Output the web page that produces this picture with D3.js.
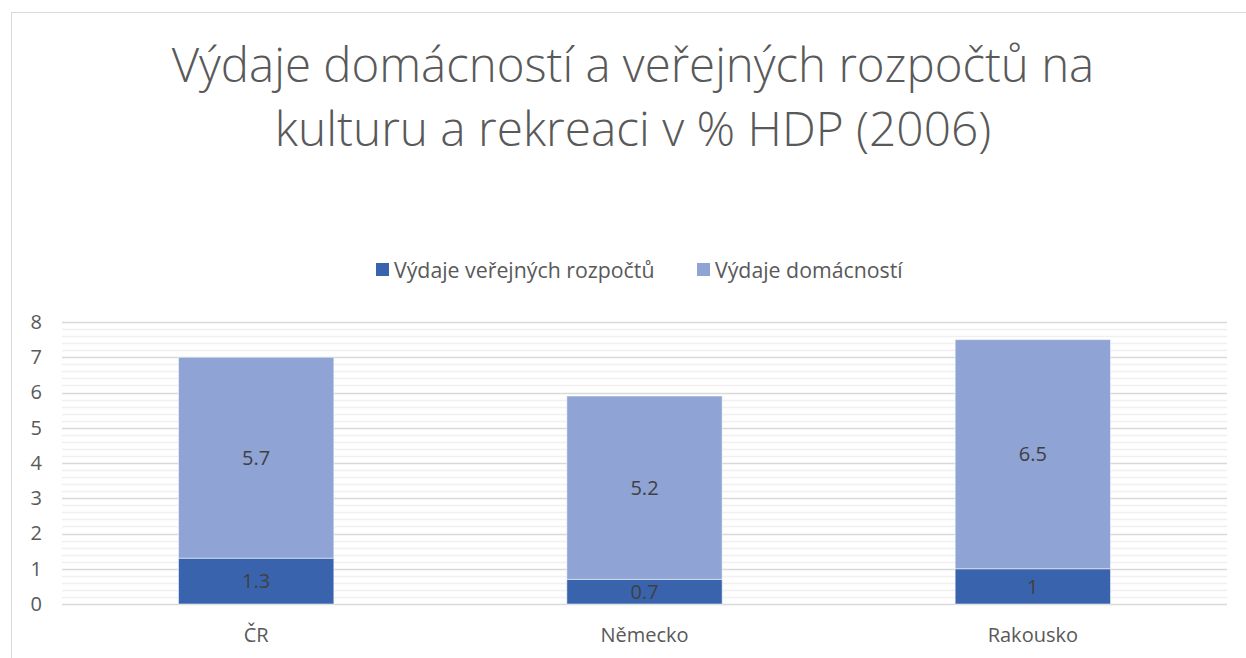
<!DOCTYPE html>
<html>
<head>
<meta charset="utf-8">
<script src="https://cdn.jsdelivr.net/npm/d3@7"></script>
<style>
  body { margin: 0; background: #fff; }
  svg { display: block; font-family: "Open Sans", "Noto Sans", sans-serif; }
</style>
</head>
<body>
<div id="chart"></div>
<script>
// Data
const categories = ['ČR', 'Německo', 'Rakousko'];
const publicSpend = [1.3, 0.7, 1];       // Výdaje veřejných rozpočtů
const householdSpend = [5.7, 5.2, 6.5];  // Výdaje domácností
const seriesNames = ['Výdaje veřejných rozpočtů', 'Výdaje domácností'];
const seriesColors = ['#3A63AD', '#8FA3D4'];
const yTicks = [0, 1, 2, 3, 4, 5, 6, 7, 8];
const titleLines = ['Výdaje domácností a veřejných rozpočtů na', 'kulturu a rekreaci v % HDP (2006)'];

const width = 1246, height = 658;
const margin = { left: 62, right: 19, top: 322, bottom: 54 };

const svg = d3.select('#chart').append('svg')
    .attr('width', width)
    .attr('height', height);

// Chart border (runs off right and bottom edges)
svg.append('rect')
    .attr('x', 11.5).attr('y', 12.5)
    .attr('width', 1400).attr('height', 800)
    .attr('fill', 'none')
    .attr('stroke', '#d9d9d9')
    .attr('stroke-width', 1);

// Title - fit each line to its width in the reference
const titleWidths = [922, 716];
titleLines.forEach((line, i) => {
    const t = svg.append('text')
        .attr('x', 633)
        .attr('y', 82 + i * 64)
        .attr('text-anchor', 'middle')
        .attr('fill', '#595959')
        .style('font-size', '42px')
        .style('font-weight', 300)
        .text(line);
    const w = t.node().getComputedTextLength();
    t.style('font-size', (42 * titleWidths[i] / w).toFixed(1) + 'px');
});

// Scales
const x = d3.scaleBand()
    .domain(categories)
    .range([margin.left, width - margin.right])
    .paddingInner(0.6)
    .paddingOuter(0.3);

const y = d3.scaleLinear()
    .domain([0, 8])
    .range([height - margin.bottom, margin.top]);

// Minor gridlines (every 0.2)
const minorTicks = d3.range(0, 8.001, 0.2).filter(v => Math.abs(v - Math.round(v)) > 0.01);
svg.append('g')
    .selectAll('line')
    .data(minorTicks)
    .join('line')
    .attr('x1', margin.left)
    .attr('x2', width - margin.right)
    .attr('y1', d => Math.round(y(d)) + 0.5)
    .attr('y2', d => Math.round(y(d)) + 0.5)
    .attr('stroke', '#f0f0f0')
    .attr('stroke-width', 1.5);

// Major gridlines
svg.append('g')
    .selectAll('line')
    .data(yTicks)
    .join('line')
    .attr('x1', margin.left)
    .attr('x2', width - margin.right)
    .attr('y1', d => Math.round(y(d)) + 0.5)
    .attr('y2', d => Math.round(y(d)) + 0.5)
    .attr('stroke', '#d9d9d9')
    .attr('stroke-width', 1.5);

// Y axis labels
const yAxis = svg.append('g')
    .attr('transform', `translate(${margin.left - 20},0)`)
    .call(d3.axisLeft(y).tickValues(yTicks).tickSize(0).tickPadding(0));
yAxis.select('.domain').remove();
yAxis.selectAll('text')
    .attr('fill', '#595959')
    .style('font-size', '20px')
    .style('font-family', '"Open Sans", "Noto Sans", sans-serif');

// X axis labels
const xAxis = svg.append('g')
    .attr('transform', `translate(0,${height - margin.bottom + 24})`)
    .call(d3.axisBottom(x).tickSize(0).tickPadding(0));
xAxis.select('.domain').remove();
xAxis.selectAll('text')
    .attr('fill', '#595959')
    .style('font-size', '20px')
    .style('font-family', '"Open Sans", "Noto Sans", sans-serif');

// Stacked bars
const rows = categories.map((c, i) => ({ cat: c, pub: publicSpend[i], hh: householdSpend[i] }));
const stacked = d3.stack().keys(['pub', 'hh'])(rows);

const layer = svg.append('g')
    .selectAll('g')
    .data(stacked)
    .join('g')
    .attr('fill', (d, i) => seriesColors[i]);

layer.selectAll('rect')
    .data(d => d)
    .join('rect')
    .attr('x', d => x(d.data.cat))
    .attr('width', x.bandwidth())
    .attr('y', d => y(d[1]))
    .attr('height', d => y(d[0]) - y(d[1]))
    .attr('stroke', '#ffffff')
    .attr('stroke-opacity', 0.5)
    .attr('stroke-width', 1);

// Data labels
layer.selectAll('text')
    .data(d => d.map(v => ({ v, key: d.key })))
    .join('text')
    .attr('x', d => x(d.v.data.cat) + x.bandwidth() / 2)
    .attr('y', d => (y(d.v[0]) + y(d.v[1])) / 2)
    .attr('dy', '0.36em')
    .attr('text-anchor', 'middle')
    .attr('fill', '#404040')
    .style('font-size', '20px')
    .text(d => d.v.data[d.key]);

// Legend
const legendItems = [
    { name: seriesNames[0], color: seriesColors[0], x: 376 },
    { name: seriesNames[1], color: seriesColors[1], x: 697 }
];
const legend = svg.append('g')
    .selectAll('g')
    .data(legendItems)
    .join('g')
    .attr('transform', d => `translate(${d.x},263)`);
legend.append('rect')
    .attr('width', 13).attr('height', 13)
    .attr('fill', d => d.color);
legend.append('text')
    .attr('x', 18)
    .attr('y', 7)
    .attr('dy', '0.36em')
    .attr('fill', '#595959')
    .style('font-size', '21.3px')
    .text(d => d.name);
</script>
</body>
</html>
